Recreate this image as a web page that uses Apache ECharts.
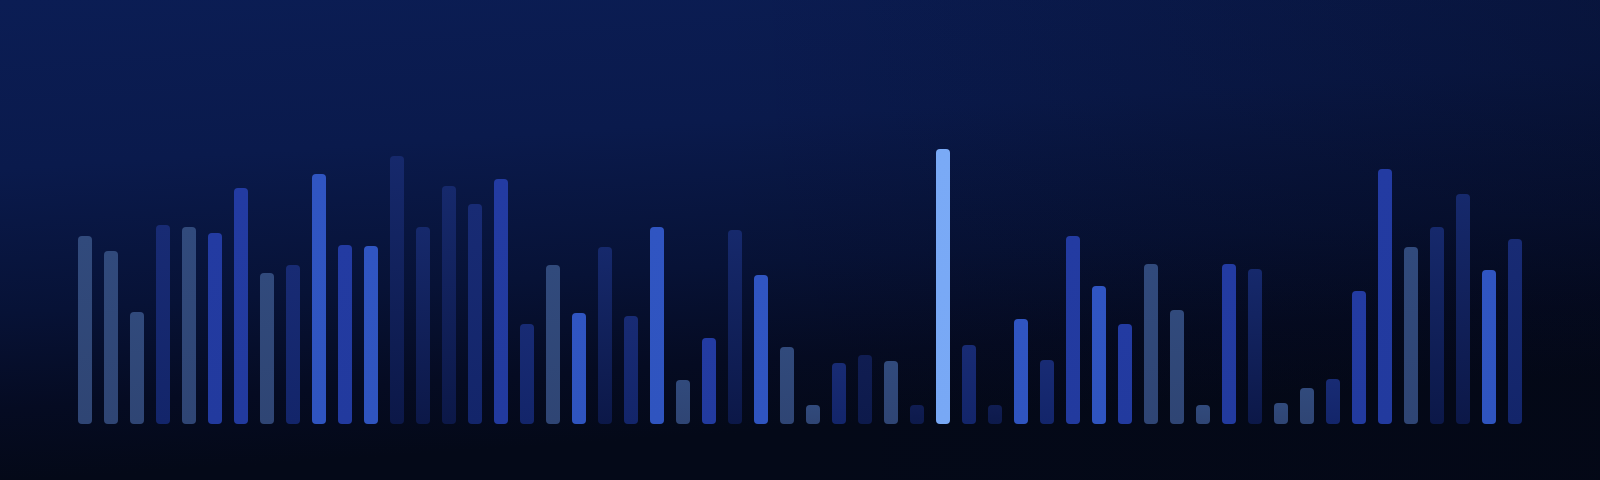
<!DOCTYPE html>
<html>
<head>
<meta charset="utf-8">
<style>
html,body{margin:0;padding:0;background:#060d26;}
#chart{width:1600px;height:480px;}
</style>
<script src="https://cdn.jsdelivr.net/npm/echarts@6/dist/echarts.min.js"></script>
</head>
<body>
<div id="chart"></div>
<script>
var categories = [];
for (var i = 1; i <= 56; i++) categories.push('B' + i);

var values = [188,173,112,199,197,191,236,151,159,250,179,178,268,197,238,220,
  245,100,159,111,177,108,197,44,86,194,149,77,19,61,69,63,19,275,79,19,105,64,
  188,138,100,160,114,19,160,155,21,36,45,133,255,177,197,230,154,185];

var tones = ['slate','slate','slate','navy','slate','royal','royal','slate','navy','bright',
  'royal','bright','dim','dim','dim','navy','royal','navy','slate','bright',
  'dim','navy','bright','slate','royal','dim','bright','slate','slate','navy',
  'dark','slate','dark','light','navy','dark','bright','navy','royal','bright',
  'royal','slate','slate','slate','royal','dim','slate','slate','navy','royal',
  'royal','slate','dim','dim','bright','navy'];

var palette = {
  slate: ['#314a7c', '#2f4574'],
  navy: ['#182b74', '#13256a'],
  royal: ['#233ba2', '#223a9e'],
  bright: ['#3055c2', '#2f54bf'],
  light: ['#7aaaf6', '#78a8f5'],
  dim: ['#16296c', '#0c1848'],
  dark: ['#101d52', '#0d1a4b']
};

var data = values.map(function (v, i) {
  var c = palette[tones[i]];
  return {
    value: v,
    itemStyle: {
      color: new echarts.graphic.LinearGradient(0, 0, 0, 1, [
        {offset: 0, color: c[0]}, {offset: 1, color: c[1]}
      ])
    }
  };
});

var chart = echarts.init(document.getElementById('chart'), null, {renderer: 'canvas'});
chart.setOption({
  animation: false,
  backgroundColor: new echarts.graphic.LinearGradient(0, 0, 0.02, 1, [
    {offset: 0, color: '#0b1d54'},
    {offset: 0.35, color: '#0a1a4c'},
    {offset: 0.65, color: '#071236'},
    {offset: 0.85, color: '#050b22'},
    {offset: 1, color: '#040918'}
  ]),
  graphic: [{
    type: 'rect', z: -1, silent: true,
    shape: {x: 0, y: 0, width: 1600, height: 480},
    style: {
      fill: new echarts.graphic.LinearGradient(0, 0, 1, 0, [
        {offset: 0, color: 'rgba(3,6,20,0)'},
        {offset: 0.45, color: 'rgba(3,6,20,0)'},
        {offset: 1, color: 'rgba(3,6,20,0.3)'}
      ])
    }
  }],
  grid: {left: 72, right: 72, top: 24, bottom: 56},
  xAxis: {
    type: 'category', data: categories,
    axisLine: {show: false}, axisTick: {show: false}, axisLabel: {show: false},
    splitLine: {show: false}
  },
  yAxis: {
    type: 'value', min: 0, max: 400,
    axisLine: {show: false}, axisTick: {show: false}, axisLabel: {show: false},
    splitLine: {show: false}
  },
  series: [{
    type: 'bar',
    data: data,
    barWidth: 14,
    itemStyle: {borderRadius: 4}
  }]
});
</script>
</body>
</html>
